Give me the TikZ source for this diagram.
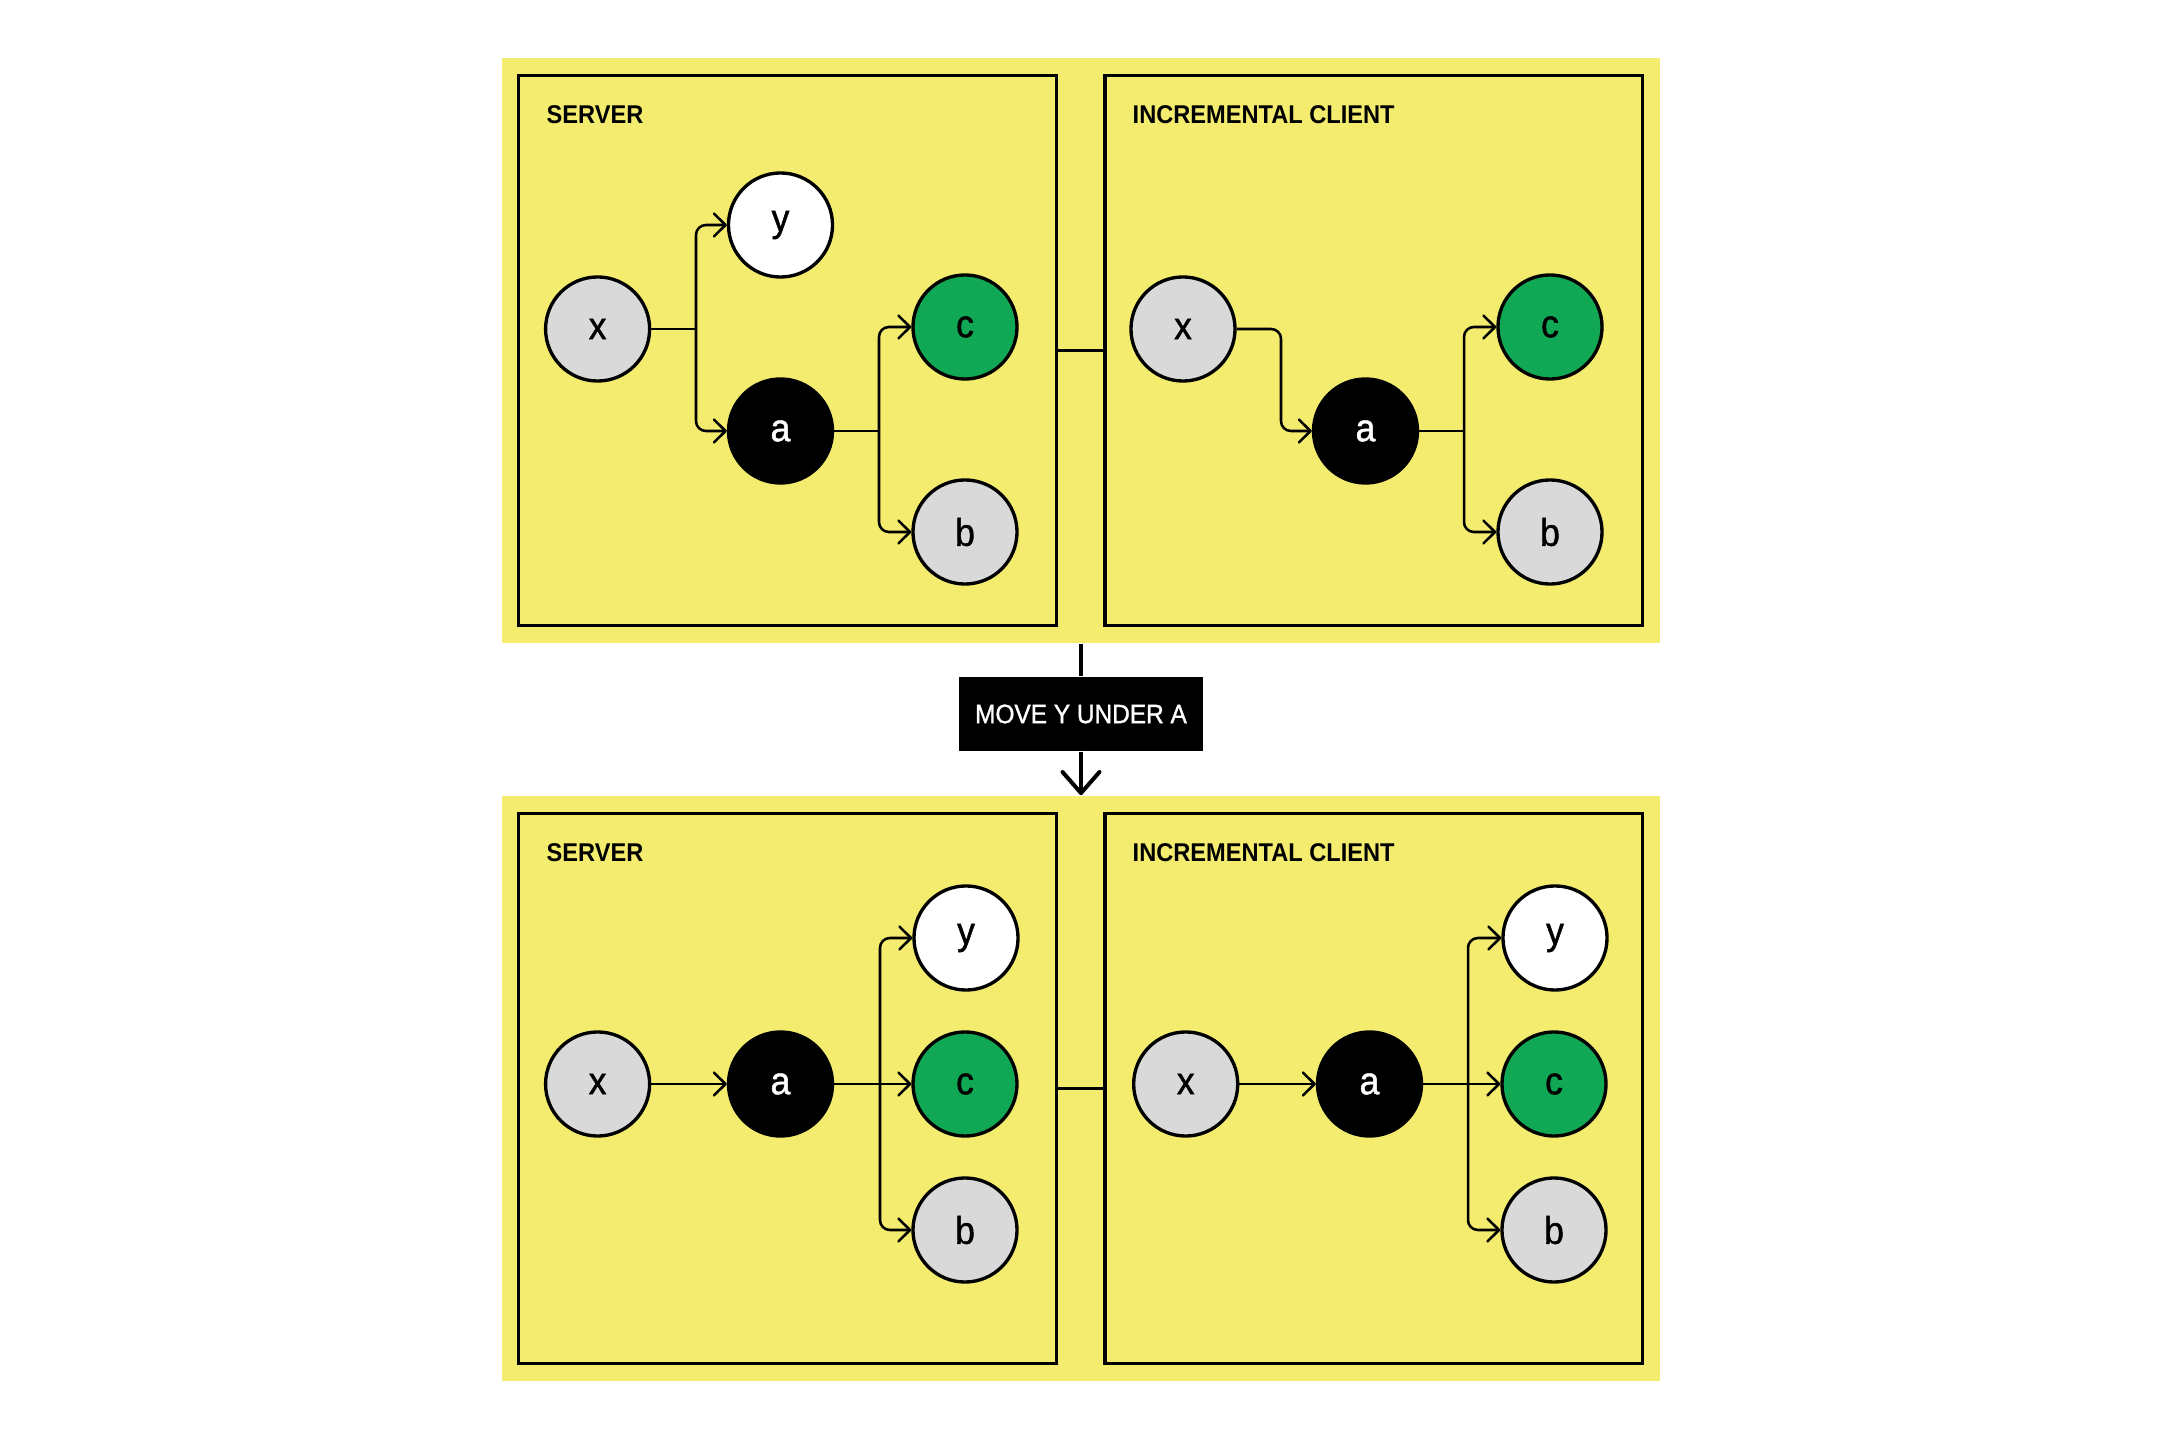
\documentclass[tikz,border=0pt]{standalone}
\usepackage{fontspec}
\setmainfont{Liberation Sans}[FakeStretch=0.92]
\newfontfamily\medfont{Liberation Sans}[FakeStretch=0.92, FakeBold=1.2]
\usetikzlibrary{arrows.meta}
\definecolor{panelyellow}{RGB}{243,236,110}
\definecolor{nodegreen}{RGB}{16,168,84}
\definecolor{nodegray}{RGB}{217,217,217}
\tikzset{
  panel/.style={fill=panelyellow, draw=none, inner sep=0pt, minimum width=11.58cm, minimum height=5.85cm},
  frame/.style={draw=black, line width=0.9pt, inner sep=0pt, minimum width=5.37cm, minimum height=5.49cm},
  title/.style={anchor=base west, inner sep=0pt, font=\fontsize{7.3}{8}\selectfont\bfseries},
  vert/.style={circle, draw=black, line width=0.95pt, minimum size=1.04cm, inner sep=0pt, font=\medfont\fontsize{11}{12}\selectfont},
  vgray/.style={vert, fill=nodegray},
  vwhite/.style={vert, fill=white},
  vgreen/.style={vert, fill=nodegreen},
  vblack/.style={vert, fill=black, text=white},
  conn/.style={line width=0.72pt, line join=round},
  tip/.style={-{Straight Barb[length=3.3pt,width=6.5pt,line cap=round,line join=round]}},
  bigline/.style={line width=1.14pt},
  bigtip/.style={-{Straight Barb[length=6pt,width=10.5pt,line cap=round,line join=round]}},
  opbox/.style={fill=black, text=white, inner sep=0pt, minimum width=2.43cm, minimum height=0.74cm, font=\medfont\fontsize{7.55}{9}\selectfont},
}
\begin{document}
\begin{tikzpicture}[x=0.01cm, y=-0.01cm]
\useasboundingbox (0,0) rectangle (2160,1440);

% panels
\node[panel] (P1) at (1081,350.5) {};
\node[panel] (P2) at (1081,1088.5) {};

% frames
\node[frame] (S1) at (787.5,350.5) {};
\node[frame] (C1) at (1373.7,350.5) {};
\node[frame] (S2) at (787.5,1088.5) {};
\node[frame] (C2) at (1373.7,1088.5) {};
\draw[conn] (S1.east) -- (C1.west);
\draw[conn] (S2.east) -- (C2.west);

% titles
\node[title] (tS1) at (546,123.5) {SERVER};
\node[title] (tC1) at (1132,123.5) {INCREMENTAL CLIENT};
\node[title] (tS2) at (546,862) {SERVER};
\node[title] (tC2) at (1132,862) {INCREMENTAL CLIENT};

% operation
\node[opbox] (mv) at (1081,714) {MOVE Y UNDER A};
\draw[bigline] (P1.south) -- (mv.north);
\draw[bigline, bigtip] (mv.south) -- (P2.north);

% ---- top server
\node[vgray]  (x1) at (597.6,329) {x};
\node[vwhite] (y1) at (780.5,225) {y};
\node[vblack] (a1) at (780.5,431) {a};
\node[vgreen] (c1) at (965,327) {c};
\node[vgray]  (b1) at (965,532) {b};
\coordinate (j11) at (696,329);
\coordinate (j12) at (879,431);
\draw[conn] (x1.east) -- (j11);
\draw[conn, tip, rounded corners=2.8pt] (j11) |- (y1.west);
\draw[conn, tip, rounded corners=2.8pt] (j11) |- (a1.west);
\draw[conn] (a1.east) -- (j12);
\draw[conn, tip, rounded corners=2.8pt] (j12) |- (c1.west);
\draw[conn, tip, rounded corners=2.8pt] (j12) |- (b1.west);

% ---- top client
\node[vgray]  (x2) at (1183,329) {x};
\node[vblack] (a2) at (1365.5,431) {a};
\node[vgreen] (c2) at (1550,327) {c};
\node[vgray]  (b2) at (1550,532) {b};
\coordinate (e21) at (1281,380);
\coordinate (j22) at (1464,431);
\draw[conn, tip, rounded corners=2.8pt] (x2.east) -| (e21) |- (a2.west);
\draw[conn] (a2.east) -- (j22);
\draw[conn, tip, rounded corners=2.8pt] (j22) |- (c2.west);
\draw[conn, tip, rounded corners=2.8pt] (j22) |- (b2.west);

% ---- bottom server
\node[vgray]  (x3) at (597.6,1084) {x};
\node[vblack] (a3) at (780.5,1084) {a};
\node[vwhite] (y3) at (966,938) {y};
\node[vgreen] (c3) at (965,1084) {c};
\node[vgray]  (b3) at (965,1230) {b};
\coordinate (j32) at (880,1084);
\draw[conn, tip] (x3.east) -- (a3.west);
\draw[conn, tip] (a3.east) -- (c3.west);
\draw[conn, tip, rounded corners=2.8pt] (j32) |- (y3.west);
\draw[conn, tip, rounded corners=2.8pt] (j32) |- (b3.west);

% ---- bottom client
\node[vgray]  (x4) at (1185.7,1084) {x};
\node[vblack] (a4) at (1369.5,1084) {a};
\node[vwhite] (y4) at (1555,938) {y};
\node[vgreen] (c4) at (1554,1084) {c};
\node[vgray]  (b4) at (1554,1230) {b};
\coordinate (j42) at (1468,1084);
\draw[conn, tip] (x4.east) -- (a4.west);
\draw[conn, tip] (a4.east) -- (c4.west);
\draw[conn, tip, rounded corners=2.8pt] (j42) |- (y4.west);
\draw[conn, tip, rounded corners=2.8pt] (j42) |- (b4.west);
\end{tikzpicture}
\end{document}
